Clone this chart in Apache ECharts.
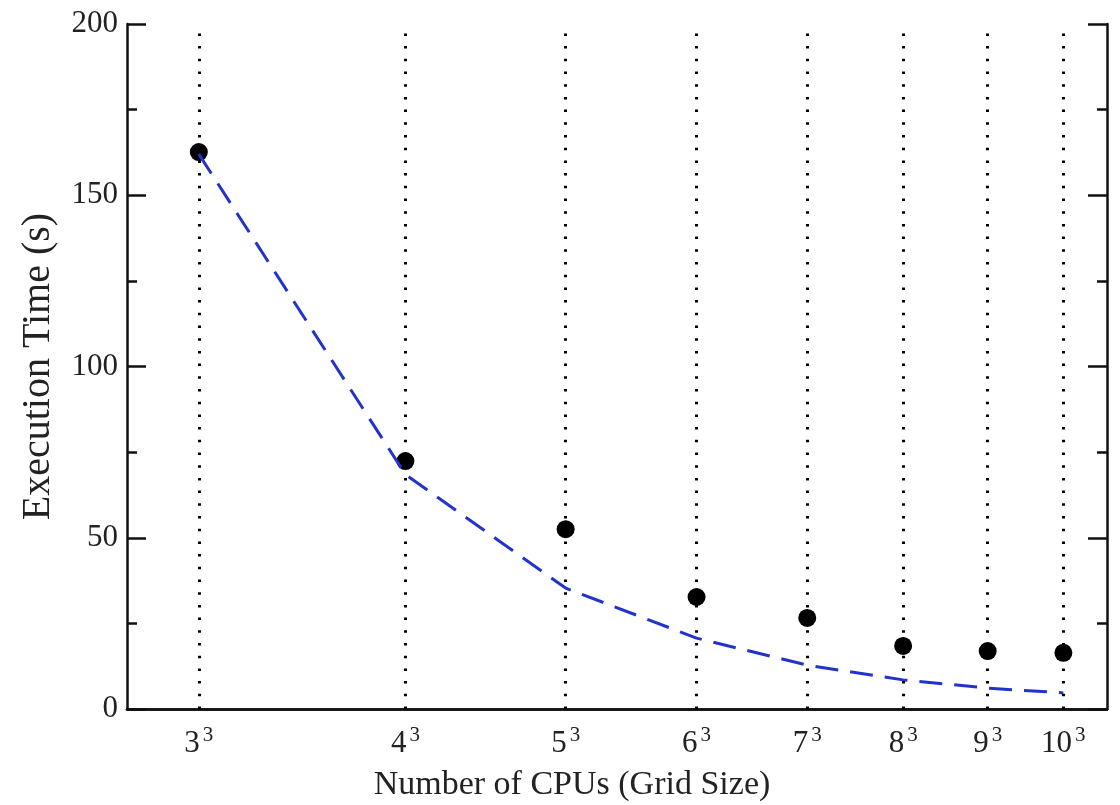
<!DOCTYPE html>
<html>
<head>
<meta charset="utf-8">
<script src="https://cdn.jsdelivr.net/npm/echarts@6/dist/echarts.min.js"></script>
<style>
  html, body { margin: 0; background: #fff; }
  #scaling { width: 1120px; height: 805px; }
</style>
</head>
<body>
<div id="scaling"></div>
<script>
// number of CPUs = grid side cubed
const cpus = [27, 64, 125, 216, 343, 512, 729, 1000]
const gridSide = ['3', '4', '5', '6', '7', '8', '9', '10']
// measured execution time (s)
const measured = [162.6, 72.4, 52.5, 32.7, 26.6, 18.4, 16.9, 16.4]
// ideal / model curve (s)
const model = [162, 68.5, 35.3, 20.7, 12.8, 8.5, 6.1, 4.7]

const serif = 'Liberation Serif'
const axisBlack = { color: '#111', width: 2.5 }
const tickStyle = { color: '#111', width: 2.5 }

const option = {
  animation: false,
  grid: { left: 127, right: 13, top: 24, bottom: 96, outerBoundsMode: 'none', containLabel: false },
  xAxis: [
    {
      type: 'log',
      logBase: 10,
      min: 20,
      max: 1200,
      name: 'Number of CPUs (Grid Size)',
      nameLocation: 'middle',
      nameGap: 59,
      nameTextStyle: { fontFamily: serif, fontSize: 34, color: '#222', padding: [0, 90, 0, 0] },
      axisLine: { show: true, lineStyle: axisBlack },
      axisTick: { show: false },
      axisLabel: { show: false },
      splitLine: { show: false },
      minorTick: { show: false },
    },
    {
      type: 'log',
      logBase: 10,
      min: 20,
      max: 1200,
      position: 'top',
      axisLine: { show: true, lineStyle: axisBlack },
      axisTick: { show: false },
      axisLabel: { show: false },
      splitLine: { show: false },
    },
  ],
  yAxis: [
    {
      type: 'value',
      min: 0,
      max: 200,
      interval: 50,
      name: 'Execution Time (s)',
      nameLocation: 'middle',
      nameGap: 69,
      nameTextStyle: { fontFamily: serif, fontSize: 40, color: '#222' },
      axisLine: { show: true, lineStyle: axisBlack },
      axisTick: { show: true, inside: true, length: 19, lineStyle: tickStyle },
      minorTick: { show: true, splitNumber: 2, length: 10, lineStyle: tickStyle },
      axisLabel: { fontFamily: serif, fontSize: 31, color: '#222', margin: 9 },
      splitLine: { show: false },
    },
    {
      type: 'value',
      min: 0,
      max: 200,
      interval: 50,
      position: 'right',
      axisLine: { show: true, lineStyle: axisBlack },
      axisTick: { show: true, inside: true, length: 19, lineStyle: tickStyle },
      minorTick: { show: true, splitNumber: 2, length: 10, lineStyle: tickStyle },
      axisLabel: { show: false },
      splitLine: { show: false },
    },
  ],
  series: [
    {
      name: 'measured',
      type: 'scatter',
      symbol: 'circle',
      symbolSize: 18,
      itemStyle: { color: '#000', opacity: 1 },
      z: 2,
      data: cpus.map((c, i) => [c, measured[i]]),
      markLine: {
        silent: true,
        symbol: ['none', 'none'],
        lineStyle: { color: '#000', width: 3, type: [2.5, 10.2], opacity: 1 },
        label: {
          show: true,
          position: 'start',
          distance: 16,
          rich: {
            b: { fontFamily: serif, fontSize: 31, color: '#222', lineHeight: 34, padding: [14, 0, 0, 0], verticalAlign: 'bottom' },
            s: { fontFamily: serif, fontSize: 21, color: '#222', lineHeight: 24, verticalAlign: 'top', padding: [0, 0, 0, 3] },
          },
        },
        data: cpus.map((c, i) => ({
          xAxis: c,
          label: { formatter: '{b|' + gridSide[i] + '}{s|3}' },
        })),
      },
    },
    {
      name: 'model',
      type: 'line',
      showSymbol: false,
      symbol: 'none',
      z: 3,
      lineStyle: { color: '#2233cc', width: 3, type: [23, 12] },
      data: cpus.map((c, i) => [c, model[i]]),
    },
  ],
}

const chart = echarts.init(document.getElementById('scaling'))
chart.setOption(option)
window.addEventListener('resize', function () {
  chart.resize()
})
</script>
</body>
</html>
